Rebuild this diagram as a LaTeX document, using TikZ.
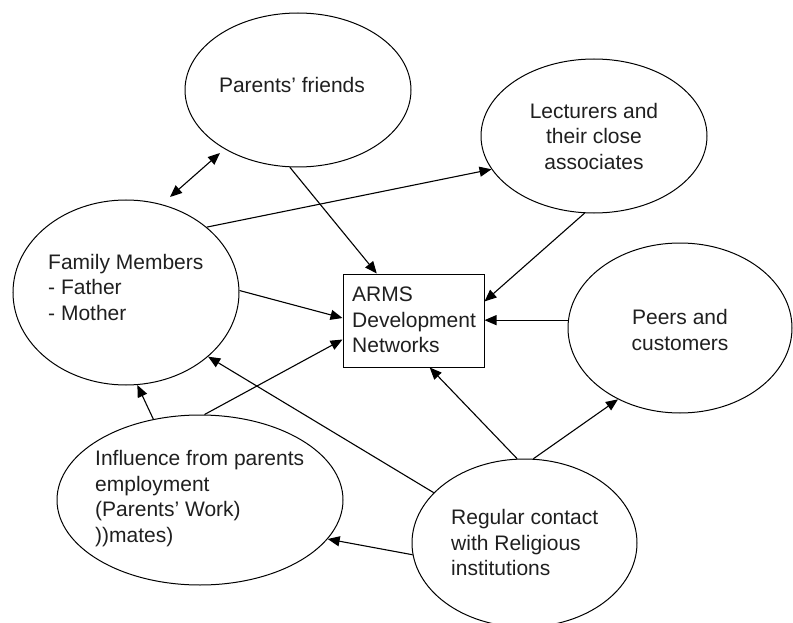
\documentclass[tikz,border=0pt]{standalone}
\usepackage{fontspec}
\setmainfont{Liberation Sans}
\usetikzlibrary{shapes.geometric,arrows.meta}
\begin{document}
\begin{tikzpicture}[x=1pt,y=-1pt,
  ell/.style={draw,ellipse,inner sep=0pt,line width=1pt},
  txt/.style={inner sep=0pt,text=black!88,font=\fontsize{21}{25.5}\selectfont},
  arr/.style={line width=1.1pt,-{Triangle[length=12pt,width=10pt]}},
  darr/.style={line width=1.1pt,{Triangle[length=12pt,width=10pt]}-{Triangle[length=12pt,width=10pt]}}]
\useasboundingbox (0,0) rectangle (793,623);
\begin{scope}
\clip (0,0) rectangle (793,623);
% ellipses
\node[ell,minimum width=226pt,minimum height=154pt] (pf) at (298,90) {};
\node[ell,minimum width=226pt,minimum height=154pt] (lec) at (594,136) {};
\node[ell,minimum width=226pt,minimum height=185pt] (fam) at (126,292.5) {};
\node[ell,minimum width=224pt,minimum height=170pt] (peer) at (680,328) {};
\node[ell,minimum width=286pt,minimum height=170pt] (inf) at (200,500) {};
\node[ell,minimum width=225pt,minimum height=168pt] (reg) at (524.5,543) {};
\node[draw,rectangle,line width=1pt,minimum width=141pt,minimum height=93pt,inner sep=0pt] (arms) at (413.5,320.5) {};
% texts
\node[txt] (pft) at (292,85) {Parents’ friends};
\node[txt,align=center] (lect) at (594,136) {Lecturers and\\their close\\associates};
\node[txt,align=left,anchor=west] (famt) at (48,287) {Family Members\\- Father\\- Mother};
\node[txt,align=left,anchor=west] (armst) at (352,320) {ARMS\\Development\\Networks};
\node[txt,align=center] (peert) at (680,330) {Peers and\\customers};
\node[txt,align=left,anchor=west] (inft) at (95,498.5) {Influence from parents\\employment\\(Parents’ Work)\\))mates)};
\node[txt,align=left,anchor=west] (regt) at (451,542.5) {Regular contact\\with Religious\\institutions};
% connectors
\coordinate (d1) at (170,197);
\coordinate (d2) at (220,153);
\draw[darr] (d1) -- (d2);
\draw[arr] (pf.264) -- (arms.128);
\draw[arr] (fam.39) -- (lec.198);
\draw[arr] (lec.263) -- (arms.15);
\draw[arr] (fam.1) -- (arms.178);
\draw[arr] (peer.176) -- (arms.east |- peer.176);
\draw[arr] (inf.87) -- (arms.195);
\draw[arr] (reg.151) -- (fam.322);
\draw[arr] (inf.120) -- (fam.277);
\draw[arr] (reg.95) -- (arms.289);
\draw[arr] (reg.84) -- (peer.229);
\draw[arr] (reg.186) -- (inf.343);
\end{scope}
\end{tikzpicture}
\end{document}
